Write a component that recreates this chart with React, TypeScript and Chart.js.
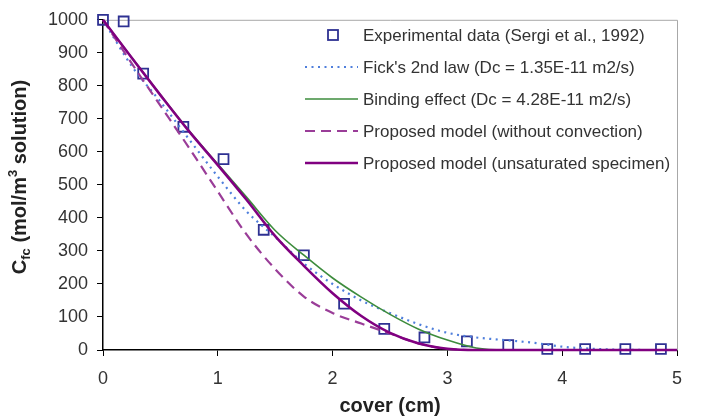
import React, { useEffect, useRef } from "react";
import { Chart, registerables } from "chart.js";

Chart.register(...registerables);

// ---- data ----
const coverGrid = [0, 0.25, 0.5, 0.75, 1, 1.25, 1.5, 1.75, 2, 2.25, 2.5, 2.75, 3, 3.25, 3.5, 3.75, 4, 4.25, 4.5, 4.75, 5];
const fickValues = [1000, 860, 752, 638, 525, 420, 342, 262, 200, 150, 112, 78, 52, 38, 30, 22, 10, 4, 1, 0, 0];
const bindingValues = [1000, 886, 773, 664, 563, 463, 362, 287, 218, 160, 108, 63, 30, 6, 0, 0, 0, 0, 0, 0, 0];
const noConvectionValues = [1000, 868, 740, 612, 480, 350, 245, 162, 112, 80, 50, 20, 3, 0, 0, 0, 0, 0, 0, 0, 0];
const unsaturatedValues = [1000, 885, 772, 662, 560, 455, 345, 255, 172, 103, 52, 20, 4, 0, 0, 0, 0, 0, 0, 0, 0];

const expCover = [0, 0.18, 0.35, 0.7, 1.05, 1.4, 1.75, 2.1, 2.45, 2.8, 3.17, 3.53, 3.87, 4.2, 4.55, 4.86];
const expConc = [1000, 995, 837, 676, 578, 364, 287, 140, 64, 38, 26, 15, 3, 3, 3, 3];

const yTicks = [0, 100, 200, 300, 400, 500, 600, 700, 800, 900, 1000];
const xTicks = [0, 1, 2, 3, 4, 5];

const seriesLabels = [
  "Experimental data (Sergi et al., 1992)",
  "Fick's 2nd law (Dc = 1.35E-11 m2/s)",
  "Binding effect (Dc = 4.28E-11 m2/s)",
  "Proposed model (without convection)",
  "Proposed model (unsaturated specimen)",
];

const FONT = '"Liberation Sans", Arial, sans-serif';

const toPts = (xs: number[], ys: number[]) => xs.map((x, i) => ({ x, y: ys[i] }));

const overlayPlugin = {
  id: "overlay",
  beforeDatasetsDraw(chart: any) {
    const { ctx, chartArea } = chart;
    const { left, right, top, bottom } = chartArea;
    ctx.save();
    ctx.strokeStyle = "#a8a8a8";
    ctx.lineWidth = 1;
    ctx.beginPath();
    ctx.moveTo(left, top + 0.5);
    ctx.lineTo(right + 0.5, top + 0.5);
    ctx.lineTo(right + 0.5, bottom);
    ctx.stroke();
    ctx.restore();
  },
  afterDraw(chart: any) {
    const { ctx, chartArea } = chart;
    const { left, right } = chartArea;
    ctx.save();
    // x title
    ctx.fillStyle = "#222";
    ctx.font = `bold 20px ${FONT}`;
    ctx.textAlign = "center";
    ctx.textBaseline = "middle";
    ctx.fillText("cover (cm)", (left + right) / 2, 406);

    // y title with subscript / superscript
    const parts = [
      { t: "C", size: 20, dy: 0 },
      { t: "fc", size: 13, dy: 4 },
      { t: " (mol/m", size: 20, dy: 0 },
      { t: "3", size: 13, dy: -9 },
      { t: " solution)", size: 20, dy: 0 },
    ];
    ctx.translate(19, 177);
    ctx.rotate(-Math.PI / 2);
    ctx.textAlign = "left";
    ctx.textBaseline = "alphabetic";
    let total = 0;
    for (const p of parts) {
      ctx.font = `bold ${p.size}px ${FONT}`;
      total += ctx.measureText(p.t).width;
    }
    let cx = -total / 2;
    for (const p of parts) {
      ctx.font = `bold ${p.size}px ${FONT}`;
      ctx.fillText(p.t, cx, 7 + p.dy);
      cx += ctx.measureText(p.t).width;
    }
    ctx.restore();

    // legend
    ctx.save();
    const ds = chart.data.datasets;
    [0, 1, 2, 3, 4].forEach((di, i) => {
      const d = ds[di];
      const y = 35 + 32 * i;
      if (di === 0) {
        ctx.strokeStyle = d.borderColor;
        ctx.lineWidth = 1.8;
        ctx.strokeRect(333 - 5, y - 5, 10, 10);
      } else {
        ctx.strokeStyle = d.borderColor;
        ctx.lineWidth = d.borderWidth;
        ctx.setLineDash(d.borderDash || []);
        ctx.beginPath();
        ctx.moveTo(305, y);
        ctx.lineTo(358, y);
        ctx.stroke();
        ctx.setLineDash([]);
      }
      ctx.fillStyle = "#333";
      ctx.font = `17px ${FONT}`;
      ctx.textAlign = "left";
      ctx.textBaseline = "middle";
      ctx.fillText(seriesLabels[di], 363, y + 1);
    });
    ctx.restore();
  },
};

export default function App() {
  const ref = useRef<HTMLCanvasElement | null>(null);
  useEffect(() => {
    if (!ref.current) return;
    const lineCommon = { showLine: true, pointRadius: 0, cubicInterpolationMode: "monotone", clip: false };
    const chart = new Chart(ref.current, {
      type: "scatter",
      data: {
        datasets: [
          {
            label: seriesLabels[0],
            data: toPts(expCover, expConc),
            showLine: false,
            pointStyle: "rect",
            pointRadius: 7,
            pointBorderWidth: 1.8,
            borderColor: "#2e3192",
            pointBorderColor: "#2e3192",
            backgroundColor: "rgba(0,0,0,0)",
            pointBackgroundColor: "rgba(0,0,0,0)",
            order: 5,
            clip: false,
          },
          {
            ...lineCommon,
            label: seriesLabels[1],
            data: toPts(coverGrid, fickValues),
            borderColor: "#4f7fdc",
            borderWidth: 2.2,
            borderDash: [2, 4.5],
            order: 4,
          },
          {
            ...lineCommon,
            label: seriesLabels[2],
            data: toPts(coverGrid, bindingValues),
            borderColor: "#3d8c3d",
            borderWidth: 1.6,
            order: 3,
          },
          {
            ...lineCommon,
            label: seriesLabels[3],
            data: toPts(coverGrid, noConvectionValues),
            borderColor: "#9a3d98",
            borderWidth: 2.2,
            borderDash: [10, 6],
            order: 2,
          },
          {
            ...lineCommon,
            label: seriesLabels[4],
            data: toPts(coverGrid, unsaturatedValues),
            borderColor: "#800080",
            borderWidth: 2.6,
            order: 1,
          },
        ],
      },
      options: {
        animation: false,
        responsive: true,
        maintainAspectRatio: false,
        layout: { padding: { left: 0, top: 7, right: 24, bottom: 0 } },
        plugins: { legend: { display: false }, tooltip: { enabled: false }, title: { display: false } },
        scales: {
          x: {
            type: "linear",
            min: 0,
            max: 5,
            afterFit: (s: any) => { s.height = 70; },
            afterBuildTicks: (s: any) => { s.ticks = xTicks.map((v) => ({ value: v })); },
            ticks: { color: "#333", font: { family: FONT, size: 18 }, padding: 12, callback: (v: any) => String(v) },
            grid: { display: true, drawOnChartArea: false, drawTicks: true, tickLength: 6, color: "#000", lineWidth: 1 },
            border: { display: true, color: "#000", width: 1.5 },
            title: { display: false },
          },
          y: {
            type: "linear",
            min: 0,
            max: 1000,
            afterFit: (s: any) => { s.width = 103; },
            afterBuildTicks: (s: any) => { s.ticks = yTicks.map((v) => ({ value: v })); },
            ticks: { color: "#333", font: { family: FONT, size: 18 }, padding: 9, callback: (v: any) => String(v) },
            grid: { display: true, drawOnChartArea: false, drawTicks: true, tickLength: 6, color: "#000", lineWidth: 1 },
            border: { display: true, color: "#000", width: 1.5 },
            title: { display: false },
          },
        },
      },
      plugins: [overlayPlugin],
    } as any);
    return () => chart.destroy();
  }, []);
  return (
    <div style={{ position: "fixed", left: 0, top: 0, width: 701, height: 420, background: "#fff" }}>
      <canvas ref={ref} />
    </div>
  );
}
